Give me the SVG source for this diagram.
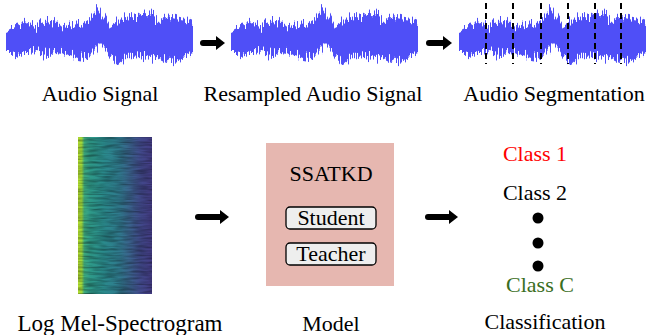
<svg xmlns="http://www.w3.org/2000/svg" width="647" height="335" viewBox="0 0 647 335">
<defs>
<style>
text{font-family:"Liberation Serif","Times New Roman",serif;font-size:22px;text-anchor:middle;fill:#000}
.conn{stroke:#000;stroke-width:6;stroke-linecap:round;fill:none}
.seg{stroke:#000;stroke-width:2;stroke-dasharray:6 4;fill:none}
.btn{fill:#eeeeee;stroke:#000;stroke-width:1.3}
.wave{fill:#4f4ff7}
.dot{fill:#000}
</style>
<filter id="jag" x="-5%" y="-40%" width="110%" height="180%" color-interpolation-filters="sRGB">
<feTurbulence type="fractalNoise" baseFrequency="0.9 0.03" numOctaves="2" seed="3" result="n"/>
<feColorMatrix in="n" type="matrix" values="0 0 0 0 0.5  0 1 0 0 0  0 0 0 0 0  0 0 0 0 1" result="m"/>
<feDisplacementMap in="SourceGraphic" in2="m" scale="24" xChannelSelector="R" yChannelSelector="G"/>
</filter>
<filter id="sn" x="0" y="0" width="1" height="1" color-interpolation-filters="sRGB">
<feTurbulence type="fractalNoise" baseFrequency="0.06 0.45" numOctaves="2" seed="5" result="t"/>
<feColorMatrix in="t" type="matrix" values="0 0 0 0 0  0 0 0 0 0  0 0 0 0 0  0.7 0 0 0 -0.22" result="d"/>
<feComposite in="d" in2="SourceGraphic" operator="atop"/>
</filter>
<linearGradient id="spec" x1="0" y1="0" x2="1" y2="0">
<stop offset="0" stop-color="#b2dc2f"/>
<stop offset="0.05" stop-color="#a0d83c"/>
<stop offset="0.085" stop-color="#3fae80"/>
<stop offset="0.16" stop-color="#2e9a88"/>
<stop offset="0.35" stop-color="#2a8a8c"/>
<stop offset="0.55" stop-color="#2f7a8d"/>
<stop offset="0.7" stop-color="#3a628c"/>
<stop offset="0.85" stop-color="#41488a"/>
<stop offset="1" stop-color="#443c85"/>
</linearGradient>
<path id="wv" d="M6,31 L12,28 L20,26 L28,24 L36,26 L44,23 L52,22 L58,27 L64,26 L72,24 L80,25 L88,20 L94,12 L98,9 L104,18 L110,27 L116,24 L122,18 L130,16 L138,17 L146,14 L154,15 L160,20 L166,17 L172,16 L180,18 L186,19 L193,22 L193,55 L186,58 L178,60 L170,62 L164,60 L158,57 L150,58 L140,55 L132,56 L124,60 L118,65 L112,58 L106,50 L100,44 L96,50 L90,56 L84,60 L78,59 L70,56 L62,51 L56,50 L48,54 L40,53 L30,50 L20,52 L12,54 L6,54 Z"/>
<marker id="ah" markerUnits="userSpaceOnUse" markerWidth="9" markerHeight="14" refX="0" refY="7" orient="auto"><path d="M0,0 L9,7 L0,14 Z" fill="#000"/></marker>
</defs>
<rect width="647" height="335" fill="#fff"/>

<g id="audio-signal">
<use href="#wv" class="wave" filter="url(#jag)"/>
<text x="100" y="101">Audio Signal</text>
</g>

<g id="resampled-audio-signal">
<use href="#wv" class="wave" filter="url(#jag)" transform="translate(225,0)"/>
<text x="313" y="101">Resampled Audio Signal</text>
</g>

<g id="audio-segmentation">
<use href="#wv" class="wave" filter="url(#jag)" transform="translate(453,0)"/>
<line class="seg" x1="486" y1="3" x2="486" y2="64"/>
<line class="seg" x1="513" y1="3" x2="513" y2="64"/>
<line class="seg" x1="541" y1="3" x2="541" y2="64"/>
<line class="seg" x1="568" y1="3" x2="568" y2="64"/>
<line class="seg" x1="595" y1="3" x2="595" y2="64"/>
<line class="seg" x1="621" y1="3" x2="621" y2="64"/>
<text x="554" y="101">Audio Segmentation</text>
</g>

<g id="log-mel-spectrogram">
<rect x="78" y="137" width="74" height="157" fill="url(#spec)" filter="url(#sn)"/>
<text x="120" y="331" style="font-size:23px">Log Mel-Spectrogram</text>
</g>

<g id="model">
<rect x="266" y="143" width="128" height="143" fill="#e6b7b0"/>
<text x="331" y="181">SSATKD</text>
<rect class="btn" x="286" y="207" width="90" height="22" rx="4"/>
<text x="331" y="225">Student</text>
<rect class="btn" x="286" y="243" width="90" height="22" rx="4"/>
<text x="331" y="261">Teacher</text>
<text x="331" y="331">Model</text>
</g>

<g id="classification">
<text x="535" y="161" style="fill:#ff0000">Class 1</text>
<text x="535" y="200">Class 2</text>
<circle class="dot" cx="538" cy="218" r="5.5"/>
<circle class="dot" cx="538" cy="243" r="5.5"/>
<circle class="dot" cx="538" cy="266" r="5.5"/>
<text x="540" y="292" style="fill:#3a6e22">Class C</text>
<text x="545" y="329">Classification</text>
</g>

<g id="connectors">
<line class="conn" x1="203" y1="43" x2="216" y2="43" marker-end="url(#ah)"/>
<line class="conn" x1="429" y1="43" x2="443" y2="43" marker-end="url(#ah)"/>
<line class="conn" x1="198" y1="217" x2="220" y2="217" marker-end="url(#ah)"/>
<line class="conn" x1="428" y1="217" x2="449" y2="217" marker-end="url(#ah)"/>
</g>
</svg>
